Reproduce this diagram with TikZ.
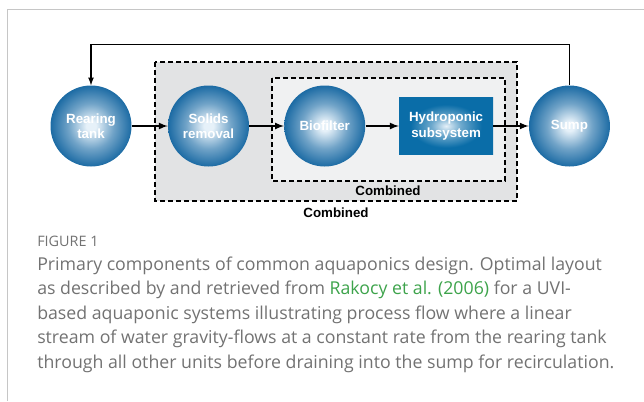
\documentclass[tikz,border=0pt]{standalone}
\usepackage{fontspec}
\setmainfont{Liberation Sans}
\newfontfamily\capfont{Open Sans}
\usetikzlibrary{arrows,shapes,positioning}
\definecolor{bubbleout}{HTML}{1C6BA4}
\definecolor{bubblein}{HTML}{E6F1F9}
\definecolor{hydroblue}{HTML}{0A6DA8}
\definecolor{outergray}{HTML}{E2E3E4}
\definecolor{innergray}{HTML}{F0F1F2}
\definecolor{captext}{HTML}{727272}
\definecolor{citegreen}{HTML}{3DA34B}
\definecolor{framegray}{HTML}{C6C6C6}
\colorlet{bubblemid}{bubblein!42!bubbleout}
\colorlet{glowmid}{bubblein!45!hydroblue}
\pgfdeclareradialshading{bubble}{\pgfpoint{0bp}{0bp}}{color(0bp)=(bubblein); color(3bp)=(bubblein); color(14bp)=(bubblemid); color(25bp)=(bubbleout); color(50bp)=(bubbleout)}
\pgfdeclareradialshading{glow}{\pgfpoint{0bp}{0bp}}{color(0bp)=(bubblein); color(8bp)=(glowmid); color(19bp)=(hydroblue); color(50bp)=(hydroblue)}
\tikzset{
  unit/.style   = {align=center, text=white, font=\bfseries\fontsize{10}{11.5}\selectfont},
  bubble/.style = {unit, circle, inner sep=0pt, minimum size=60.75pt, shade, shading=bubble},
  tray/.style   = {unit, rectangle, inner sep=0pt, minimum width=70.5pt, minimum height=42.75pt, shade, shading=glow},
  flow/.style   = {->, line width=1.3pt},
  combbox/.style = {draw=black, line width=1.1pt, dash pattern=on 3.6pt off 2.4pt},
  combtext/.style = {font=\bfseries\fontsize{10}{12}\selectfont},
  capline/.style = {anchor=base west, inner sep=0pt, text=captext, font=\capfont\fontsize{13.3}{16}\selectfont}
}
\begin{document}
\begin{tikzpicture}[x=0.75pt,y=-0.75pt,>=latex,node distance=27pt]
  \useasboundingbox (0,0) rectangle (644,401);
  \draw[framegray, line width=0.9pt] (7.5,401) -- (7.5,9.5) -- (644,9.5);
  % combined boxes
  \fill[outergray] (155,62) rectangle (517,201);
  \fill[innergray] (272,78) rectangle (505,181);
  \draw[combbox] (155,62) rectangle (517,201);
  \draw[combbox] (272,78) rectangle (505,181);
  \node[combtext] (combin) at (388,190.5) {Combined};
  \node[combtext] (combout) at (336,213) {Combined};
  % units
  \node[bubble] (tank) at (91,126) {Rearing\\tank};
  \node[bubble, right=of tank] (solids) {Solids\\removal};
  \node[bubble, right=26pt of solids] (bio) {Biofilter};
  \node[tray, right=25pt of bio] (hydro) {Hydroponic\\subsystem};
  \node[bubble, right=26.5pt of hydro] (sump) {Sump};
  \draw[flow] (tank) -- (solids);
  \draw[flow] (solids) -- (bio);
  \draw[flow] (bio) -- (hydro);
  \draw[flow] (hydro) -- (sump);
  \draw[->, line width=1pt] (sump.north) -- ++(0,-40.5) -| (tank.north);
  % caption
  \node[capline, font=\capfont\fontsize{10.8}{12}\selectfont] (fig) at (37,246) {FIGURE 1};
  \node[capline] (cap1) at (37,270) {Primary components of common aquaponics design. Optimal layout};
  \node[capline] (cap2) at (37,294.5) {as described by and retrieved from \textcolor{citegreen}{Rakocy et al. (2006)} for a UVI-};
  \node[capline] (cap3) at (37,319) {based aquaponic systems illustrating process flow where a linear};
  \node[capline] (cap4) at (37,343.5) {stream of water gravity-flows at a constant rate from the rearing tank};
  \node[capline] (cap5) at (37,368) {through all other units before draining into the sump for recirculation.};
\end{tikzpicture}
\end{document}
